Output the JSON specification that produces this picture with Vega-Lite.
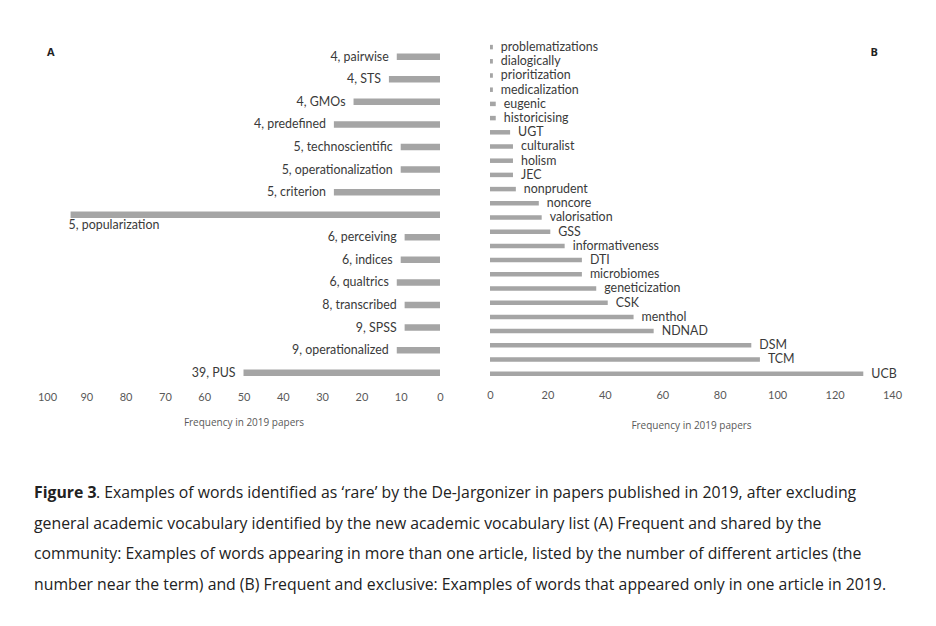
{
  "$schema": "https://vega.github.io/schema/vega-lite/v6.json",
  "padding": {"left": 34, "top": 40, "right": 0, "bottom": 12},
  "background": "white",
  "config": {
    "view": {"stroke": null},
    "font": "Lato",
    "concat": {"spacing": 42}
  },
  "datasets": {
    "A": [
      {"term": "4, pairwise", "freq": 11},
      {"term": "4, STS", "freq": 13},
      {"term": "4, GMOs", "freq": 22},
      {"term": "4, predefined", "freq": 27},
      {"term": "5, technoscientific", "freq": 10},
      {"term": "5, operationalization", "freq": 10},
      {"term": "5, criterion", "freq": 27},
      {"term": "5, popularization", "freq": 94},
      {"term": "6, perceiving", "freq": 9},
      {"term": "6, indices", "freq": 10},
      {"term": "6, qualtrics", "freq": 11},
      {"term": "8, transcribed", "freq": 9},
      {"term": "9, SPSS", "freq": 9},
      {"term": "9, operationalized", "freq": 11},
      {"term": "39, PUS", "freq": 50}
    ],
    "B": [
      {"term": "problematizations", "freq": 1},
      {"term": "dialogically", "freq": 1},
      {"term": "prioritization", "freq": 1},
      {"term": "medicalization", "freq": 1},
      {"term": "eugenic", "freq": 2},
      {"term": "historicising", "freq": 2},
      {"term": "UGT", "freq": 7},
      {"term": "culturalist", "freq": 8},
      {"term": "holism", "freq": 8},
      {"term": "JEC", "freq": 8},
      {"term": "nonprudent", "freq": 9},
      {"term": "noncore", "freq": 17},
      {"term": "valorisation", "freq": 18},
      {"term": "GSS", "freq": 21},
      {"term": "informativeness", "freq": 26},
      {"term": "DTI", "freq": 32},
      {"term": "microbiomes", "freq": 32},
      {"term": "geneticization", "freq": 37},
      {"term": "CSK", "freq": 41},
      {"term": "menthol", "freq": 50},
      {"term": "NDNAD", "freq": 57},
      {"term": "DSM", "freq": 91},
      {"term": "TCM", "freq": 94},
      {"term": "UCB", "freq": 130}
    ],
    "caption": [
      {"line": 1, "part": "bold", "text": "Figure 3"},
      {"line": 1, "part": "rest", "text": ". Examples of words identified as ‘rare’ by the De-Jargonizer in papers published in 2019, after excluding"},
      {"line": 2, "part": "all", "text": "general academic vocabulary identified by the new academic vocabulary list (A) Frequent and shared by the"},
      {"line": 3, "part": "all", "text": "community: Examples of words appearing in more than one article, listed by the number of different articles (the"},
      {"line": 4, "part": "all", "text": "number near the term) and (B) Frequent and exclusive: Examples of words that appeared only in one article in 2019."}
    ]
  },
  "vconcat": [
    {
      "hconcat": [
        {
          "width": 393,
          "height": 344,
          "title": {"text": "A", "anchor": "start", "frame": "group", "offset": -18, "fontSize": 11, "fontWeight": "bold", "color": "#222", "font": "Open Sans"},
          "data": {"name": "A"},
          "encoding": {
            "y": {"field": "term", "type": "nominal", "sort": null, "axis": null, "scale": {"paddingInner": 0, "paddingOuter": 0.12, "align": 1}},
            "x": {
              "field": "freq", "type": "quantitative",
              "scale": {"domain": [0, 100], "reverse": true, "nice": false},
              "axis": {"values": [0,10,20,30,40,50,60,70,80,90,100], "labelFlush": false, "domain": false, "ticks": false, "grid": false, "labelFontSize": 11, "labelColor": "#595959", "labelPadding": 7, "title": "Frequency in 2019 papers", "titleFontSize": 10, "titleFontWeight": "normal", "titleColor": "#595959", "titlePadding": 15, "titleFont": "Open Sans"}
            }
          },
          "layer": [
            {"mark": {"type": "bar", "color": "#a5a5a5", "size": 6.5}},
            {
              "transform": [{"filter": "datum.term != '5, popularization'"}],
              "mark": {"type": "text", "align": "right", "baseline": "middle", "dx": -8, "fontSize": 12.4, "color": "#3a3a3a"},
              "encoding": {"text": {"field": "term"}}
            },
            {
              "transform": [{"filter": "datum.term == '5, popularization'"}],
              "mark": {"type": "text", "align": "left", "baseline": "top", "dx": -2, "dy": 4, "fontSize": 12.4, "color": "#3a3a3a"},
              "encoding": {"text": {"field": "term"}}
            }
          ]
        },
        {
          "width": 402,
          "height": 344,
          "title": {"text": "B", "anchor": "end", "frame": "group", "offset": -18, "dx": -14, "fontSize": 11, "fontWeight": "bold", "color": "#222", "font": "Open Sans"},
          "data": {"name": "B"},
          "encoding": {
            "y": {"field": "term", "type": "nominal", "sort": null, "axis": null, "scale": {"paddingInner": 0, "paddingOuter": 0.113, "align": 0}},
            "x": {
              "field": "freq", "type": "quantitative",
              "scale": {"domain": [0, 140], "nice": false},
              "axis": {"values": [0,20,40,60,80,100,120,140], "labelFlush": false, "domain": false, "ticks": false, "grid": false, "labelFontSize": 11, "labelColor": "#595959", "labelPadding": 5, "title": "Frequency in 2019 papers", "titleFontSize": 10, "titleFontWeight": "normal", "titleColor": "#595959", "titlePadding": 20, "titleFont": "Open Sans"}
            }
          },
          "layer": [
            {"mark": {"type": "bar", "color": "#a5a5a5", "size": 4.5}},
            {
              "mark": {"type": "text", "align": "left", "baseline": "middle", "dx": 8, "fontSize": 12.4, "color": "#3a3a3a"},
              "encoding": {"text": {"field": "term"}}
            }
          ]
        }
      ]
    },
    {
      "width": 880,
      "height": 92,
      "data": {"name": "caption"},
      "encoding": {
        "y": {"field": "line", "type": "ordinal", "axis": null, "scale": {"type": "point", "padding": 0}},
        "text": {"field": "text"}
      },
      "layer": [
        {
          "transform": [{"filter": "datum.part == 'bold'"}],
          "mark": {"type": "text", "align": "left", "baseline": "middle", "x": 0, "dx": -13, "font": "Open Sans", "fontSize": 15.8, "fontWeight": "bold", "color": "#222"}
        },
        {
          "transform": [{"filter": "datum.part == 'rest'"}],
          "mark": {"type": "text", "align": "left", "baseline": "middle", "x": 0, "dx": 49, "font": "Open Sans", "fontSize": 15.8, "color": "#222"}
        },
        {
          "transform": [{"filter": "datum.part == 'all'"}],
          "mark": {"type": "text", "align": "left", "baseline": "middle", "x": 0, "dx": -13, "font": "Open Sans", "fontSize": 15.8, "color": "#222"}
        }
      ]
    }
  ],
  "spacing": 55
}
